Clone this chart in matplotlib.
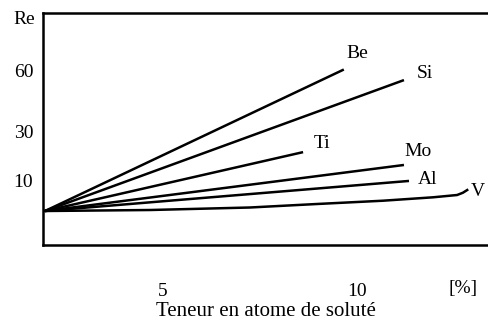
import numpy as np
import matplotlib
matplotlib.use("Agg")
import matplotlib.pyplot as plt

plt.rcParams['font.family'] = ['Liberation Serif', 'DejaVu Serif']

# Solute content (at. %) and resulting Re value at the end of each trend line
elements = ["Be", "Si", "Ti", "Mo", "Al"]
end_content = [9.66, 11.21, 8.61, 11.21, 11.34]
end_re = [60.5, 55.3, 21.5, 16.2, 9.7]

# Vanadium follows a curved path
v_content = [0.0, 4.45, 7.24, 8.97, 10.67, 11.96, 12.58, 12.73, 12.84]
v_re = [0.0, 0.32, 1.13, 2.26, 3.32, 4.42, 5.16, 5.90, 6.77]

x_ticks = [5, 10]
y_ticks = [10, 30, 60]

# Piecewise axis graduation of the diagram
x_knots = [-5, 0, 5, 10, 20]
x_pos = [-118, 0, 118, 312, 700]
y_knots = [-20, 0, 10, 30, 60, 120]
y_pos = [-62, 0, 31, 79.5, 140.5, 262.5]


def fx(v):
    return np.interp(v, x_knots, x_pos)


def ix(p):
    return np.interp(p, x_pos, x_knots)


def fy(v):
    return np.interp(v, y_knots, y_pos)


def iy(p):
    return np.interp(p, y_pos, y_knots)


fig = plt.figure(figsize=(4.88, 3.21), dpi=100)
ax = fig.add_axes([43 / 488, 1 - 245 / 321, 1 - 43 / 488, (245 - 13) / 321])
ax.set_xscale('function', functions=(fx, ix))
ax.set_yscale('function', functions=(fy, iy))
ax.set_xlim(-0.085, 13.376)
ax.set_ylim(-10.97, 88.3)

lw = 1.8
label_offsets = {"Be": (13, 16), "Si": (21, 7), "Ti": (19, 9),
                 "Mo": (14, 13), "Al": (19, 1)}
for name, cx, ry in zip(elements, end_content, end_re):
    ax.plot([0, cx], [0, ry], color='black', lw=lw, solid_capstyle='butt')
    ax.annotate(name, xy=(cx, ry), xytext=label_offsets[name],
                textcoords='offset pixels', ha='center', va='center',
                fontsize=14)

ax.plot(v_content, v_re, color='black', lw=lw, solid_joinstyle='round')
ax.annotate("V", xy=(v_content[-1], v_re[-1]), xytext=(11, -1),
            textcoords='offset pixels', ha='center', va='center', fontsize=14)

ax.spines['right'].set_visible(False)
for side in ('left', 'top', 'bottom'):
    ax.spines[side].set_linewidth(1.8)

ax.set_xticks(x_ticks)
ax.set_xticklabels([str(t) for t in x_ticks])
ax.set_yticks(y_ticks)
ax.set_yticklabels([str(t) for t in y_ticks])
ax.tick_params(axis='both', length=0, labelsize=14)
ax.tick_params(axis='x', pad=27)
ax.tick_params(axis='y', pad=7)
ax.minorticks_off()

ax.annotate("Re", xy=(0, 1), xycoords='axes fraction', xytext=(-8, -7),
            textcoords='offset pixels', ha='right', va='center', fontsize=14)
ax.annotate("[%]", xy=(12.73, 0), xycoords=('data', 'axes fraction'),
            xytext=(0, -43), textcoords='offset pixels', ha='center',
            va='center', fontsize=14)

ax.set_xlabel("Teneur en atome de soluté", fontsize=15, labelpad=2)

fig.savefig("out.png", dpi=100)
